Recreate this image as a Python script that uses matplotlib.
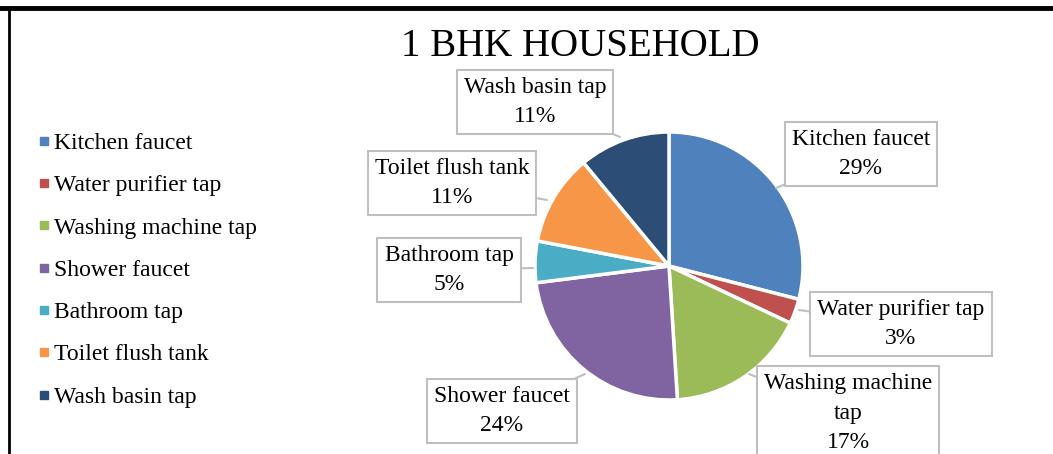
import matplotlib.pyplot as plt
from matplotlib.lines import Line2D

plt.rcParams['font.family'] = ['Liberation Serif', 'DejaVu Serif']

# dados do gráfico
categorias = ["Kitchen faucet", "Water purifier tap", "Washing machine tap",
              "Shower faucet", "Bathroom tap", "Toilet flush tank", "Wash basin tap"]
rotulos = ["Kitchen faucet", "Water purifier tap", "Washing machine\ntap",
           "Shower faucet", "Bathroom tap", "Toilet flush tank", "Wash basin tap"]
valores = [29, 3, 17, 24, 5, 11, 11]
cores = ["#4F81BD", "#C0504D", "#9BBB59", "#8064A2", "#4BACC6", "#F79646", "#2C4D75"]

W, H = 1053, 454
fig = plt.figure(figsize=(W / 100, H / 100), dpi=100)
ax = fig.add_axes([0, 0, 1, 1])

# eixo em pixels (y para cima)
cx, cy, r = 669, H - 266, 134
fatias, _ = ax.pie(valores, colors=cores, startangle=90, counterclock=False,
                   center=(cx, cy), radius=r,
                   wedgeprops=dict(edgecolor="white", linewidth=2.5))
ax.set_xlim(0, W)
ax.set_ylim(0, H)
ax.set_aspect("equal")
ax.axis("off")

# caixas dos rótulos: centro do texto e ponto da seta (coordenadas da imagem)
caixas = [(861, 154, 776, 188), (901, 324, 799, 310), (848, 413, 749, 374),
          (502, 411, 585, 374), (449, 270, 533, 268), (452, 183, 547, 200),
          (535, 102, 620, 137)]
for rot, v, (tx, ty, px, py) in zip(rotulos, valores, caixas):
    ax.annotate(f"{rot}\n{v}%", xy=(px, H - py), xytext=(tx, H - ty),
                ha="center", va="center", fontsize=17, linespacing=1.5,
                bbox=dict(boxstyle="square,pad=0.3", fc="white", ec="#BFBFBF", lw=1.5),
                arrowprops=dict(arrowstyle="-", color="#BFBFBF", lw=1.5, shrinkA=0, shrinkB=0))

fig.text(580 / W, 1 - 47 / H, "1 BHK HOUSEHOLD", ha="center", va="center", fontsize=28)

# legenda
alca = [Line2D([], [], marker="s", ls="", color=c, markersize=6) for c in cores]
fig.legend(alca, categorias, loc="upper left", bbox_to_anchor=(27 / W, 1 - 123 / H),
           frameon=False, fontsize=17, handlelength=0.6, handletextpad=0.15,
           labelspacing=0.88, borderaxespad=0)

# bordas
ax.plot([0, W], [H - 8, H - 8], color="black", lw=3.5, clip_on=False)
ax.plot([8.5, 8.5], [0, H - 8], color="black", lw=2, clip_on=False)

fig.savefig("out.png", dpi=100)
